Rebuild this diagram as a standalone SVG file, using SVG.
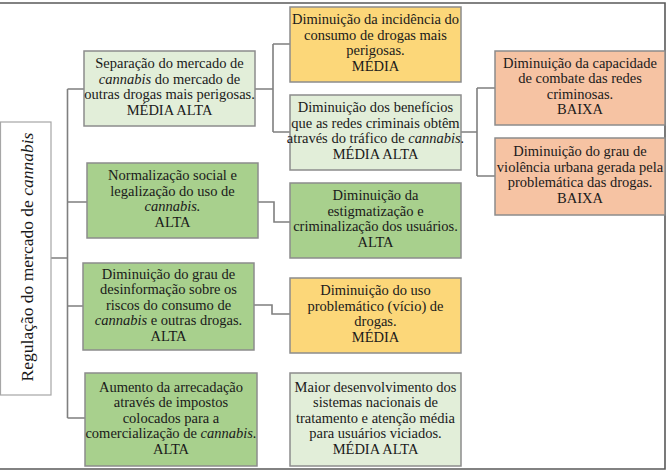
<svg xmlns="http://www.w3.org/2000/svg" width="669" height="471" viewBox="0 0 669 471">
<style>
  .box { stroke: #8c8c8c; stroke-width: 1.5; }
  .lg { fill: #e2eed9; }
  .g { fill: #a8d08d; }
  .y { fill: #fcd779; }
  .o { fill: #f6c3a3; }
  .root { fill: #ffffff; stroke: #a6a6a6; stroke-width: 1.2; }
  .conn { fill: none; stroke: #7f7f7f; stroke-width: 1.6; }
  .frame { fill: none; stroke: #595959; stroke-width: 1.6; }
  .t text { font-family: 'Liberation Serif', 'DejaVu Serif', serif; font-size: 14.5px; fill: #1a1a1a; text-anchor: middle; }
  .t .rt { font-size: 17.5px; }
  .i { font-style: italic; }
</style>
<rect width="669" height="471" fill="#ffffff"/>
<path class="frame" d="M0,3 H665 V469 H0"/>

<g id="connectors">
  <path class="conn" d="M51,258 H67.5 M67.5,89 V418 M67.5,89 H84 M67.5,202 H87 M67.5,306 H83 M67.5,418 H85"/>
  <path class="conn" d="M255,89 H273 M273,44 V132 M273,44 H290 M273,132 H290"/>
  <path class="conn" d="M461,132 H477 M477,88 V176 M477,88 H495 M477,176 H495"/>
  <path class="conn" d="M258,202 H274 V222 H290"/>
  <path class="conn" d="M254,305 H272 V314 H290"/>
</g>

<g class="t" font-family="Liberation Serif, serif">
<g id="root">
  <rect class="root" x="0.5" y="122" width="50.5" height="273"/>
  <text class="rt" transform="translate(33,257) rotate(-90)">Regulação do mercado de <tspan class="i">cannabis</tspan></text>
</g>

<g id="nA">
  <rect class="box lg" x="84" y="51" width="171" height="75"/>
  <text x="169.5" y="68.25">Separação do mercado de</text>
  <text x="169.5" y="83.75"><tspan class="i">cannabis</tspan> do mercado de</text>
  <text x="169.5" y="99.25">outras drogas mais perigosas.</text>
  <text x="169.5" y="114.75">MÉDIA ALTA</text>
</g>

<g id="nB">
  <rect class="box g" x="87" y="163" width="171" height="75"/>
  <text x="172.5" y="180.25">Normalização social e</text>
  <text x="172.5" y="195.75">legalização do uso de</text>
  <text x="172.5" y="211.25" class="i">cannabis.</text>
  <text x="172.5" y="226.75">ALTA</text>
</g>

<g id="nC">
  <rect class="box g" x="83" y="263" width="171" height="87"/>
  <text x="168.5" y="278.5">Diminuição do grau de</text>
  <text x="168.5" y="294">desinformação sobre os</text>
  <text x="168.5" y="309.5">riscos do consumo de</text>
  <text x="168.5" y="325"><tspan class="i">cannabis</tspan> e outras drogas.</text>
  <text x="168.5" y="340.5">ALTA</text>
</g>

<g id="nD">
  <rect class="box g" x="85" y="373" width="172" height="93"/>
  <text x="171" y="391.5">Aumento da arrecadação</text>
  <text x="171" y="407">através de impostos</text>
  <text x="171" y="422.5">colocados para a</text>
  <text x="171" y="438">comercialização de <tspan class="i">cannabis.</tspan></text>
  <text x="171" y="453.5">ALTA</text>
</g>

<g id="nE">
  <rect class="box y" x="290" y="7" width="171" height="75"/>
  <text x="375.5" y="24.25">Diminuição da incidência do</text>
  <text x="375.5" y="39.75">consumo de drogas mais</text>
  <text x="375.5" y="55.25">perigosas.</text>
  <text x="375.5" y="70.75">MÉDIA</text>
</g>

<g id="nF">
  <rect class="box lg" x="290" y="95" width="171" height="75"/>
  <text x="375.5" y="112.25">Diminuição dos benefícios</text>
  <text x="375.5" y="127.75">que as redes criminais  obtêm</text>
  <text x="375.5" y="143.25">através do tráfico de <tspan class="i">cannabis.</tspan></text>
  <text x="375.5" y="158.75">MÉDIA ALTA</text>
</g>

<g id="nG">
  <rect class="box g" x="290" y="183" width="171" height="75"/>
  <text x="375.5" y="200.25">Diminuição da</text>
  <text x="375.5" y="215.75">estigmatização e</text>
  <text x="375.5" y="231.25">criminalização dos usuários.</text>
  <text x="375.5" y="246.75">ALTA</text>
</g>

<g id="nH">
  <rect class="box y" x="290" y="278" width="171" height="75"/>
  <text x="375.5" y="295.25">Diminuição do uso</text>
  <text x="375.5" y="310.75">problemático (vício) de</text>
  <text x="375.5" y="326.25">drogas.</text>
  <text x="375.5" y="341.75">MÉDIA</text>
</g>

<g id="nI">
  <rect class="box lg" x="290" y="373" width="171" height="93"/>
  <text x="375.5" y="391.5">Maior desenvolvimento dos</text>
  <text x="375.5" y="407">sistemas nacionais de</text>
  <text x="375.5" y="422.5">tratamento e atenção média</text>
  <text x="375.5" y="438">para usuários viciados.</text>
  <text x="375.5" y="453.5">MÉDIA ALTA</text>
</g>

<g id="nK">
  <rect class="box o" x="495" y="51" width="170" height="74"/>
  <text x="580" y="67.75">Diminuição da capacidade</text>
  <text x="580" y="83.25">de combate das redes</text>
  <text x="580" y="98.75">criminosas.</text>
  <text x="580" y="114.25">BAIXA</text>
</g>

<g id="nL">
  <rect class="box o" x="495" y="138" width="170" height="77"/>
  <text x="580" y="156.25">Diminuição do grau de</text>
  <text x="580" y="171.75">violência urbana gerada pela</text>
  <text x="580" y="187.25">problemática das drogas.</text>
  <text x="580" y="202.75">BAIXA</text>
</g>
</g>
</svg>
